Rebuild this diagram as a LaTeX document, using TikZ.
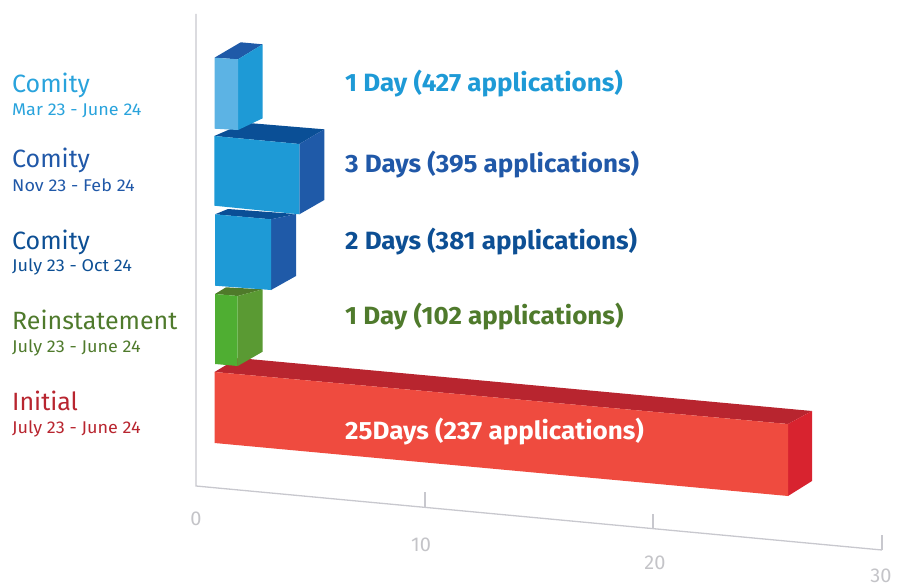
\documentclass[tikz,border=0pt]{standalone}
\usepackage{fontspec}
\setmainfont{Fira Sans}
\newfontfamily\datefont[FakeStretch=1.06]{Fira Sans}
\newfontfamily\valfont[FakeStretch=1.04]{Fira Sans}
\definecolor{tA}{HTML}{29A3DC}
\definecolor{tB}{HTML}{2058A8}
\definecolor{tC}{HTML}{0D4F94}
\definecolor{tG}{HTML}{4F7A2C}
\definecolor{tR}{HTML}{B8252F}
\definecolor{bLight}{HTML}{5CB3E4}
\definecolor{bMid}{HTML}{1E9AD6}
\definecolor{bDark}{HTML}{1F5AA8}
\definecolor{bDeep}{HTML}{0A4F96}
\definecolor{gFront}{HTML}{4FAE32}
\definecolor{gSide}{HTML}{5A9A33}
\definecolor{gTop}{HTML}{4F7A2A}
\definecolor{rFront}{HTML}{EF4B3F}
\definecolor{rSide}{HTML}{D8232F}
\definecolor{rTop}{HTML}{B8252F}
\definecolor{axisgray}{HTML}{C8C8CE}
\definecolor{labgray}{HTML}{C4C4C8}
\begin{document}
\begin{tikzpicture}[x=1pt,y=-1pt,
  title/.style={anchor=base west,inner sep=0pt,font=\fontsize{25}{29}\selectfont},
  datelab/.style={anchor=base west,inner sep=0pt,font=\datefont\fontsize{17}{20}\selectfont},
  vallab/.style={anchor=base west,inner sep=0pt,font=\valfont\fontsize{25}{29}\selectfont\bfseries},
  ticklab/.style={anchor=base,inner sep=0pt,text=labgray,font=\fontsize{20}{24}\selectfont},
  axisline/.style={draw=axisgray,line width=1.3pt}]
\useasboundingbox (0,0) rectangle (906,586);

% axes
\coordinate (ytop) at (196,14);
\coordinate (orig) at (196,486);
\coordinate (xend) at (882,550);
\draw[axisline] (ytop) -- (orig) -- (xend);
\coordinate (t10) at (425,507.4);
\coordinate (t20) at (653,528.6);
\draw[axisline] (t10) -- ++(0,-15);
\draw[axisline] (t20) -- ++(0,-15);
\draw[axisline] (xend) -- ++(0,-15);
\node[ticklab] (l0) at (196,525) {0};
\node[ticklab] (l10) at (421,551) {10};
\node[ticklab] (l20) at (655,569) {20};
\node[ticklab] (l30) at (881,582) {30};

% red bar (Initial)
\fill[rTop] (214.5,372) -- (238,358) -- (812,411) -- (788,424) -- cycle;
\fill[rSide] (788,424) -- (812,411) -- (812,481) -- (788,496) -- cycle;
\fill[rFront] (214.5,372) -- (788,424) -- (788,496) -- (214.5,443) -- cycle;

% green bar (Reinstatement)
\fill[gTop] (215,294) -- (226,287.3) -- (262.7,289.3) -- (237.7,296) -- cycle;
\fill[gSide] (237.7,296) -- (262.7,289.3) -- (262.7,351.7) -- (237.7,366) -- cycle;
\fill[gFront] (215,294) -- (237.7,296) -- (237.7,366) -- (215,364) -- cycle;

% bar 3 (Comity July)
\fill[bDeep] (215,214.3) -- (228,209) -- (296,214) -- (271,219.3) -- cycle;
\fill[bDark] (271,219.3) -- (296,214) -- (296,276) -- (271,290) -- cycle;
\fill[bMid] (215,214.3) -- (271,219.3) -- (271,290) -- (215,285.7) -- cycle;

% bar 2 (Comity Nov)
\fill[bDeep] (214.3,136) -- (245,122.7) -- (324.3,129.3) -- (299.3,144) -- cycle;
\fill[bDark] (299.3,144) -- (324.3,129.3) -- (324.3,200) -- (299.3,214.3) -- cycle;
\fill[bMid] (214.3,136) -- (299.3,144) -- (299.3,214.3) -- (214.3,205.7) -- cycle;

% bar 1 (Comity Mar)
\fill[bDark] (214.5,57.7) -- (240.7,42.3) -- (262.7,44.3) -- (238,59.3) -- cycle;
\fill[bMid] (238,59.3) -- (262.7,44.3) -- (262.7,118.3) -- (238,130) -- cycle;
\fill[bLight] (214.5,57.7) -- (238,59.3) -- (238,130) -- (214.5,128.7) -- cycle;

% left labels
\node[title,text=tA] (n1) at (12,92.7) {Comity};
\node[datelab,text=tA] (d1) at (12,116) {Mar 23 - June 24};
\node[title,text=tB] (n2) at (12,167.7) {Comity};
\node[datelab,text=tB] (d2) at (12,191) {Nov 23 - Feb 24};
\node[title,text=tC] (n3) at (12,249) {Comity};
\node[datelab,text=tC] (d3) at (12,271.7) {July 23 - Oct 24};
\node[title,text=tG] (n4) at (12,329.3) {Reinstatement};
\node[datelab,text=tG] (d4) at (12,352.7) {July 23 - June 24};
\node[title,text=tR] (n5) at (12,410) {Initial};
\node[datelab,text=tR] (d5) at (12,433.3) {July 23 - June 24};

% value labels
\node[vallab,text=bMid] (v1) at (345,91.7) {1 Day (427 applications)};
\node[vallab,text=tB] (v2) at (345,172.7) {3 Days (395 applications)};
\node[vallab,text=tC] (v3) at (345,249.3) {2 Days (381 applications)};
\node[vallab,text=tG] (v4) at (345,324.3) {1 Day (102 applications)};
\node[vallab,text=white] (v5) at (345,439) {25Days (237 applications)};
\end{tikzpicture}
\end{document}
